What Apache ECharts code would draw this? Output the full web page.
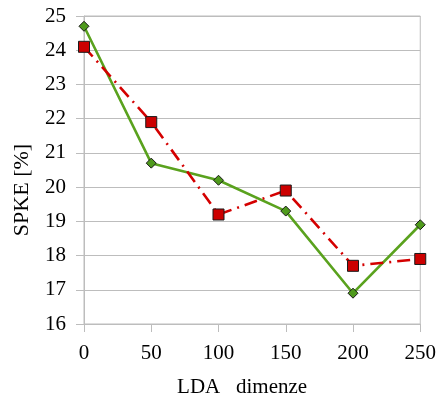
<!DOCTYPE html>
<html>
<head>
<meta charset="utf-8">
<script src="https://cdn.jsdelivr.net/npm/echarts@6/dist/echarts.min.js"></script>
<style>
  html, body { margin: 0; padding: 0; background: #fff; }
  #chart { width: 439px; height: 403px; }
</style>
</head>
<body>
<div id="chart"></div>
<script>
// LDA dimension counts and SPKE results for the two configurations
const ldaDims = [0, 50, 100, 150, 200, 250];
const spkeGreen = [24.7, 20.7, 20.2, 19.3, 16.9, 18.9];
const spkeRed = [24.1, 21.9, 19.2, 19.9, 17.7, 17.9];
const yMin = 16, yMax = 25, yStep = 1;
const xMin = 0, xMax = 250, xStep = 50;

const font = 'Liberation Serif, DejaVu Serif, serif';
const gridGray = '#bdbdbd';

const chart = echarts.init(document.getElementById('chart'), null, { renderer: 'canvas' });

chart.setOption({
  animation: false,
  backgroundColor: '#fff',
  grid: {
    left: 84, right: 17, top: 16, bottom: 78,
    show: true, borderColor: gridGray, borderWidth: 1, backgroundColor: 'transparent'
  },
  xAxis: {
    type: 'value', min: xMin, max: xMax, interval: xStep,
    name: 'LDA   dimenze', nameLocation: 'middle', nameGap: 53,
    nameTextStyle: { fontFamily: font, fontSize: 21, color: '#000', padding: [0, 20, 0, 0] },
    axisLine: { show: true, lineStyle: { color: gridGray, width: 1 } },
    axisTick: { show: true, length: 8, lineStyle: { color: gridGray } },
    axisLabel: { fontFamily: font, fontSize: 21, color: '#000', margin: 19 },
    splitLine: { show: false }
  },
  yAxis: {
    type: 'value', min: yMin, max: yMax, interval: yStep,
    name: 'SPKE [%]', nameLocation: 'middle', nameGap: 51, nameRotate: 90,
    nameTextStyle: { fontFamily: font, fontSize: 22, color: '#000', padding: [0, 40, 0, 0] },
    axisLine: { show: true, lineStyle: { color: gridGray, width: 1 } },
    axisTick: { show: true, length: 8, lineStyle: { color: gridGray } },
    axisLabel: { fontFamily: font, fontSize: 21, color: '#000', margin: 18 },
    splitLine: { show: true, lineStyle: { color: gridGray, width: 1 } }
  },
  series: [
    {
      type: 'line',
      data: ldaDims.map((d, i) => [d, spkeGreen[i]]),
      symbol: 'diamond', symbolSize: 10,
      itemStyle: { color: '#4f9a1c', borderColor: '#1a1a1a', borderWidth: 1 },
      lineStyle: { color: '#5aa21e', width: 2.6 },
      z: 2
    },
    {
      type: 'line',
      data: ldaDims.map((d, i) => [d, spkeRed[i]]),
      symbol: 'rect', symbolSize: 11,
      itemStyle: { color: '#cc0000', borderColor: '#1a1a1a', borderWidth: 1 },
      lineStyle: { color: '#d40000', width: 2.6, type: [13, 6, 2, 6] },
      z: 3
    }
  ]
});
</script>
</body>
</html>
